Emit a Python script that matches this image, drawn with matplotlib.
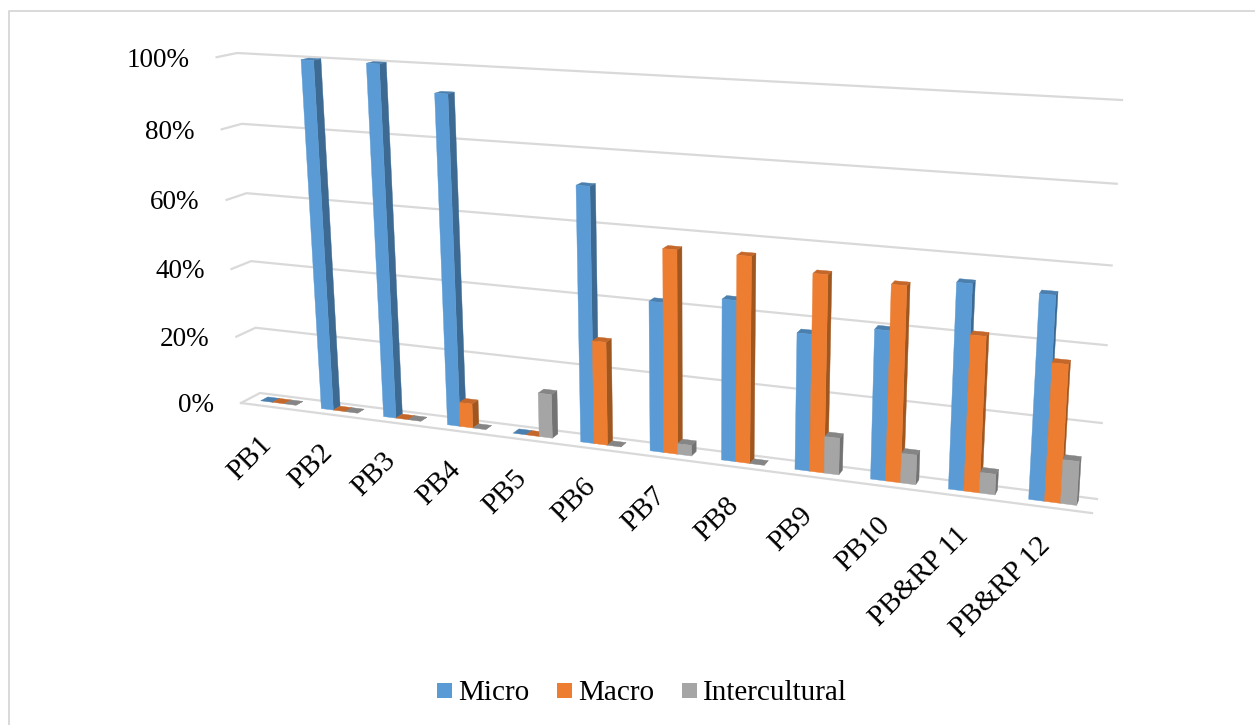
import matplotlib
matplotlib.use('Agg')
import matplotlib.pyplot as plt
import numpy as np

plt.rcParams['font.family'] = ['Liberation Serif', 'DejaVu Serif']

categories = ['PB1', 'PB2', 'PB3', 'PB4', 'PB5', 'PB6', 'PB7', 'PB8', 'PB9',
              'PB10', 'PB&RP 11', 'PB&RP 12']
micro = [0, 100, 100, 93, 0, 71, 41.5, 44, 37, 40, 54, 53]
macro = [0, 0, 0, 7, 0, 29, 56, 56, 53, 52, 41, 36]
intercultural = [0, 0, 0, 0, 12.5, 0, 3, 0, 10, 8, 5.5, 11.5]
value_ticks = [0, 20, 40, 60, 80, 100]

series = [('Micro', micro, '#5B9BD5', '#4A7FAE', '#3C6A92'),
          ('Macro', macro, '#ED7D31', '#C4672A', '#A0561F'),
          ('Intercultural', intercultural, '#A5A5A5', '#858585', '#737373')]

# camera matrix: x along categories, y front-to-back of the floor, z up the wall
# (all three run 0..1), output in figure pixels from the top left
P = np.array([[668.34, -23.18, -34.82, 260.0],
              [29.28, 3.01, -342.64, 393.0],
              [-0.15375, -0.01734, -0.04989, 1.0]])


def project(x, y, z):
    u, v, w = P @ np.array([x, y, z, 1.0])
    return u/w, v/w


def face(ax, corners, color, zorder):
    ax.fill(*zip(*[project(*c) for c in corners]), color=color, lw=0.3,
            zorder=zorder)


fig = plt.figure(figsize=(12.55, 7.25), dpi=100)
ax = fig.add_axes([0, 0, 1, 1])
ax.set_xlim(0, 1255)
ax.set_ylim(725, 0)
ax.axis('off')

# chart frame, open on the right
ax.plot([9, 9, 1255], [725, 10.5, 10.5], color='#D9D9D9', lw=1.4)

# gridlines with the short return along the side wall
grid = '#D9D9D9'
for t in value_ticks:
    z = t/100
    pts = [project(0, 1, z), project(0, 0, z), project(1, 0, z)]
    ax.plot(*zip(*pts), color=grid, lw=1.6, zorder=1, solid_joinstyle='miter')
    u, v = project(0, 1, z)
    ax.text(u-27, v+3, f'{t}%', ha='right', va='center', fontsize=19.5,
            color='black')
# front edge of the floor
ax.plot(*zip(project(0, 1, 0), project(1, 1, 0)), color=grid, lw=1.6, zorder=1)

n = len(categories)
bar_w = (1/n)*0.583/3
y_front, y_back = 0.62, 0.24
order = 2
for i in range(n):
    for s, (name, vals, front, top, side) in enumerate(series):
        x0 = (i+0.5)/n + (s-1.5)*bar_w
        x1 = x0+bar_w
        z = vals[i]/100
        order += 1
        # back to front so the next bar hides this one's side
        face(ax, [(x1, y_front, 0), (x1, y_back, 0), (x1, y_back, z),
                  (x1, y_front, z)], side, order)
        face(ax, [(x0, y_front, z), (x1, y_front, z), (x1, y_back, z),
                  (x0, y_back, z)], top, order)
        if z > 0:
            face(ax, [(x0, y_front, 0), (x1, y_front, 0), (x1, y_front, z),
                      (x0, y_front, z)], front, order)

# category labels, slanted under the floor
for i, label in enumerate(categories):
    u, v = project((i+0.5)/n, 1, 0)
    ax.text(u-13, v+25, label, rotation=45, rotation_mode='anchor', ha='right',
            va='top', fontsize=21, color='black')

# legend
legend_x = [437, 557, 682]
for lx, (name, vals, front, top, side) in zip(legend_x, series):
    ax.fill([lx, lx+15, lx+15, lx], [683, 683, 698, 698], color=front, lw=0)
    ax.text(lx+21, 700, name, ha='left', va='baseline', fontsize=21,
            color='black')

fig.savefig('out.png', dpi=100)
